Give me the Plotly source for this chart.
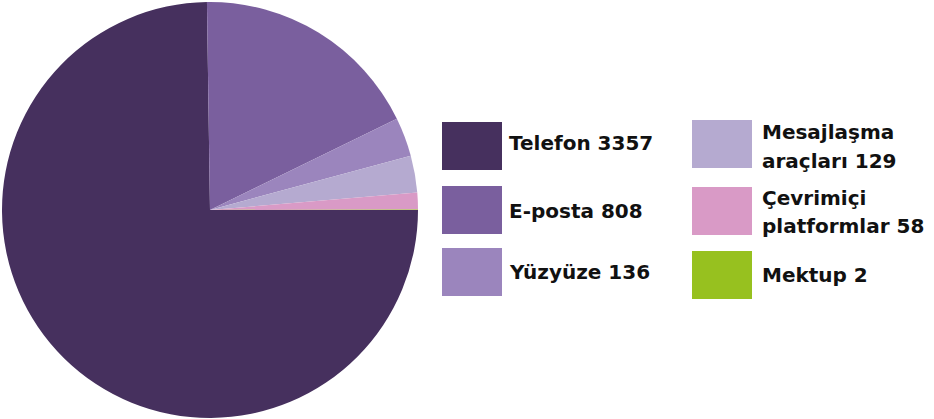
import plotly.graph_objects as go

W, H = 934, 419

labels = ["Telefon", "E-posta", "Yüzyüze", "Mesajlaşma araçları", "Çevrimiçi platformlar", "Mektup"]
legend_lines = [["Telefon 3357"], ["E-posta 808"], ["Yüzyüze 136"],
                ["Mesajlaşma", "araçları 129"], ["Çevrimiçi", "platformlar 58"], ["Mektup 2"]]
values = [3357, 808, 136, 129, 58, 2]
colors = ["#46305e", "#7a5f9e", "#9b85bd", "#b5aad0", "#d99ac6", "#97c11f"]

fig = go.Figure(go.Pie(
    labels=labels, values=values, sort=False, direction="clockwise", rotation=90,
    marker=dict(colors=colors, line=dict(width=0)),
    textinfo="none", hoverinfo="label+value", showlegend=False,
    domain=dict(x=[2 / W, 418 / W], y=[1 / H, 417 / H]),
))

# legend layout (pixel positions): two columns of three
box_x = [442, 442, 442, 692, 692, 692]
box_y = [122, 186, 248, 120, 187, 251]
box_w, box_h = 60, 48
text_x = [507, 507, 507, 760, 760, 760]
# vertical centre of capitals for each text line
text_cy = [[142.5], [210], [271], [131, 160], [197, 225], [274.5]]

def px(x):
    return x / W

def py(y):
    return 1 - y / H

shapes = []
annotations = []
for i, c in enumerate(colors):
    x0, y0 = box_x[i], box_y[i]
    shapes.append(dict(type="rect", xref="paper", yref="paper",
                       x0=px(x0), x1=px(x0 + box_w), y0=py(y0 + box_h), y1=py(y0),
                       fillcolor=c, line=dict(width=0)))
    for line, cy in zip(legend_lines[i], text_cy[i]):
        annotations.append(dict(xref="paper", yref="paper", x=px(text_x[i]), y=py(cy + 0.5),
                                xanchor="left", yanchor="middle", text=line, showarrow=False,
                                align="left",
                                font=dict(family="DejaVu Sans", size=20, color="#111111",
                                          weight="bold")))

fig.update_layout(width=W, height=H, margin=dict(l=0, r=0, t=0, b=0),
                  paper_bgcolor="white", plot_bgcolor="white",
                  shapes=shapes, annotations=annotations)
fig.write_html("out.html", config={"displayModeBar": False},
               post_script="document.body.style.margin='0px';")
